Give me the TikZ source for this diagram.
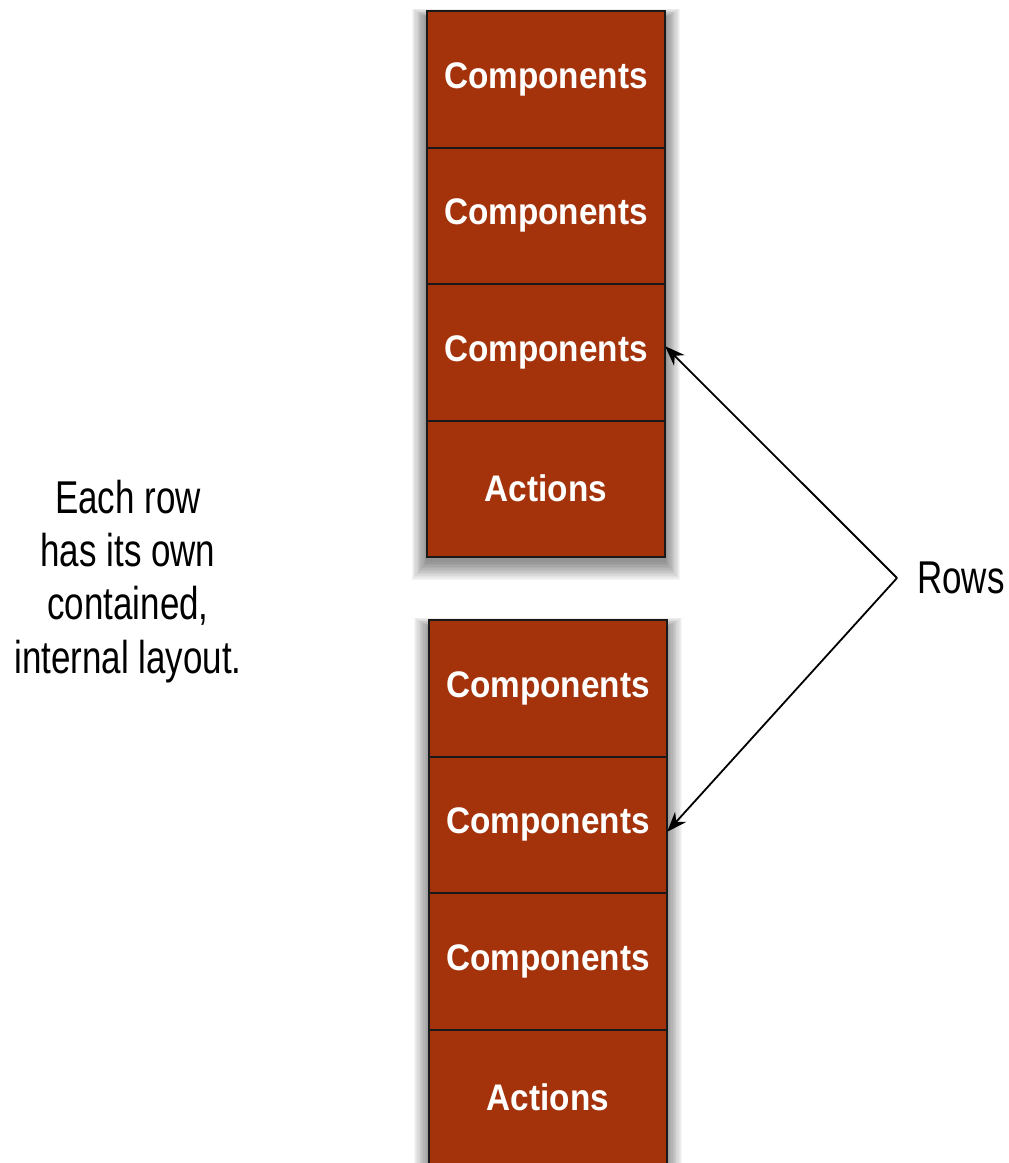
\documentclass[tikz,border=0pt]{standalone}
\usepackage{fontspec}
\newfontfamily\labfont[FakeStretch=0.76]{Liberation Sans}
\newfontfamily\cellfont[FakeStretch=0.9]{Liberation Sans}
\usetikzlibrary{arrows.meta}
\definecolor{rust}{RGB}{164,50,11}
\tikzset{
  cell/.style={fill=rust, minimum width=238pt, minimum height=136.5pt,
    inner sep=0pt, text=white, font=\cellfont\bfseries\fontsize{37}{40}\selectfont},
  edge/.style={draw=black!90, line width=2pt},
  note/.style={font=\labfont\fontsize{46}{53.3}\selectfont, align=center, text=black, inner sep=0pt},
  pointer/.style={line width=1.8pt, -{Stealth[length=20pt,width=15pt]}},
}
\begin{document}
\begin{tikzpicture}[x=1pt,y=-1pt]
\useasboundingbox (0,0) rectangle (1009,1163);
\clip (0,0) rectangle (1009,1163);
\fill[white] (0,0) rectangle (1009,1163);
% soft shadows
\foreach \d in {1,2.5,...,19}{
  \fill[black,opacity=0.04] (427-\d*0.8,11+7-\d*0.5) rectangle (665+\d*0.8,557+4+\d);
  \fill[black,opacity=0.035] (429-\d*0.8,620+7-\d*0.5) rectangle (667+\d*0.8,1200);
}
% top column
\node[cell] (a1) at (546,79.25) {Components};
\node[cell] (a2) at (546,215.75) {Components};
\node[cell] (a3) at (546,352.25) {Components};
\node[cell] (a4) at (546,488.75) {Actions};
\draw[edge] (a1.north west) rectangle (a4.south east);
\draw[edge] (a1.south west) -- (a1.south east);
\draw[edge] (a2.south west) -- (a2.south east);
\draw[edge] (a3.south west) -- (a3.south east);
% bottom column
\node[cell] (b1) at (548,688.25) {Components};
\node[cell] (b2) at (548,824.75) {Components};
\node[cell] (b3) at (548,961.25) {Components};
\node[cell] (b4) at (548,1097.75) {Actions};
\draw[edge] (b1.north west) rectangle (b4.south east);
\draw[edge] (b1.south west) -- (b1.south east);
\draw[edge] (b2.south west) -- (b2.south east);
\draw[edge] (b3.south west) -- (b3.south east);
% labels
\node[note, anchor=base] (desc) at (128,673) {Each row\\has its own\\contained,\\internal layout.};
\node[note, anchor=base west] (rows) at (917,593) {Rows};
\coordinate (apex) at (897,578);
\draw[pointer] (apex) -- ([yshift=6pt]a3.east);
\draw[pointer] (apex) -- ([yshift=-7pt]b2.east);
\end{tikzpicture}
\end{document}
